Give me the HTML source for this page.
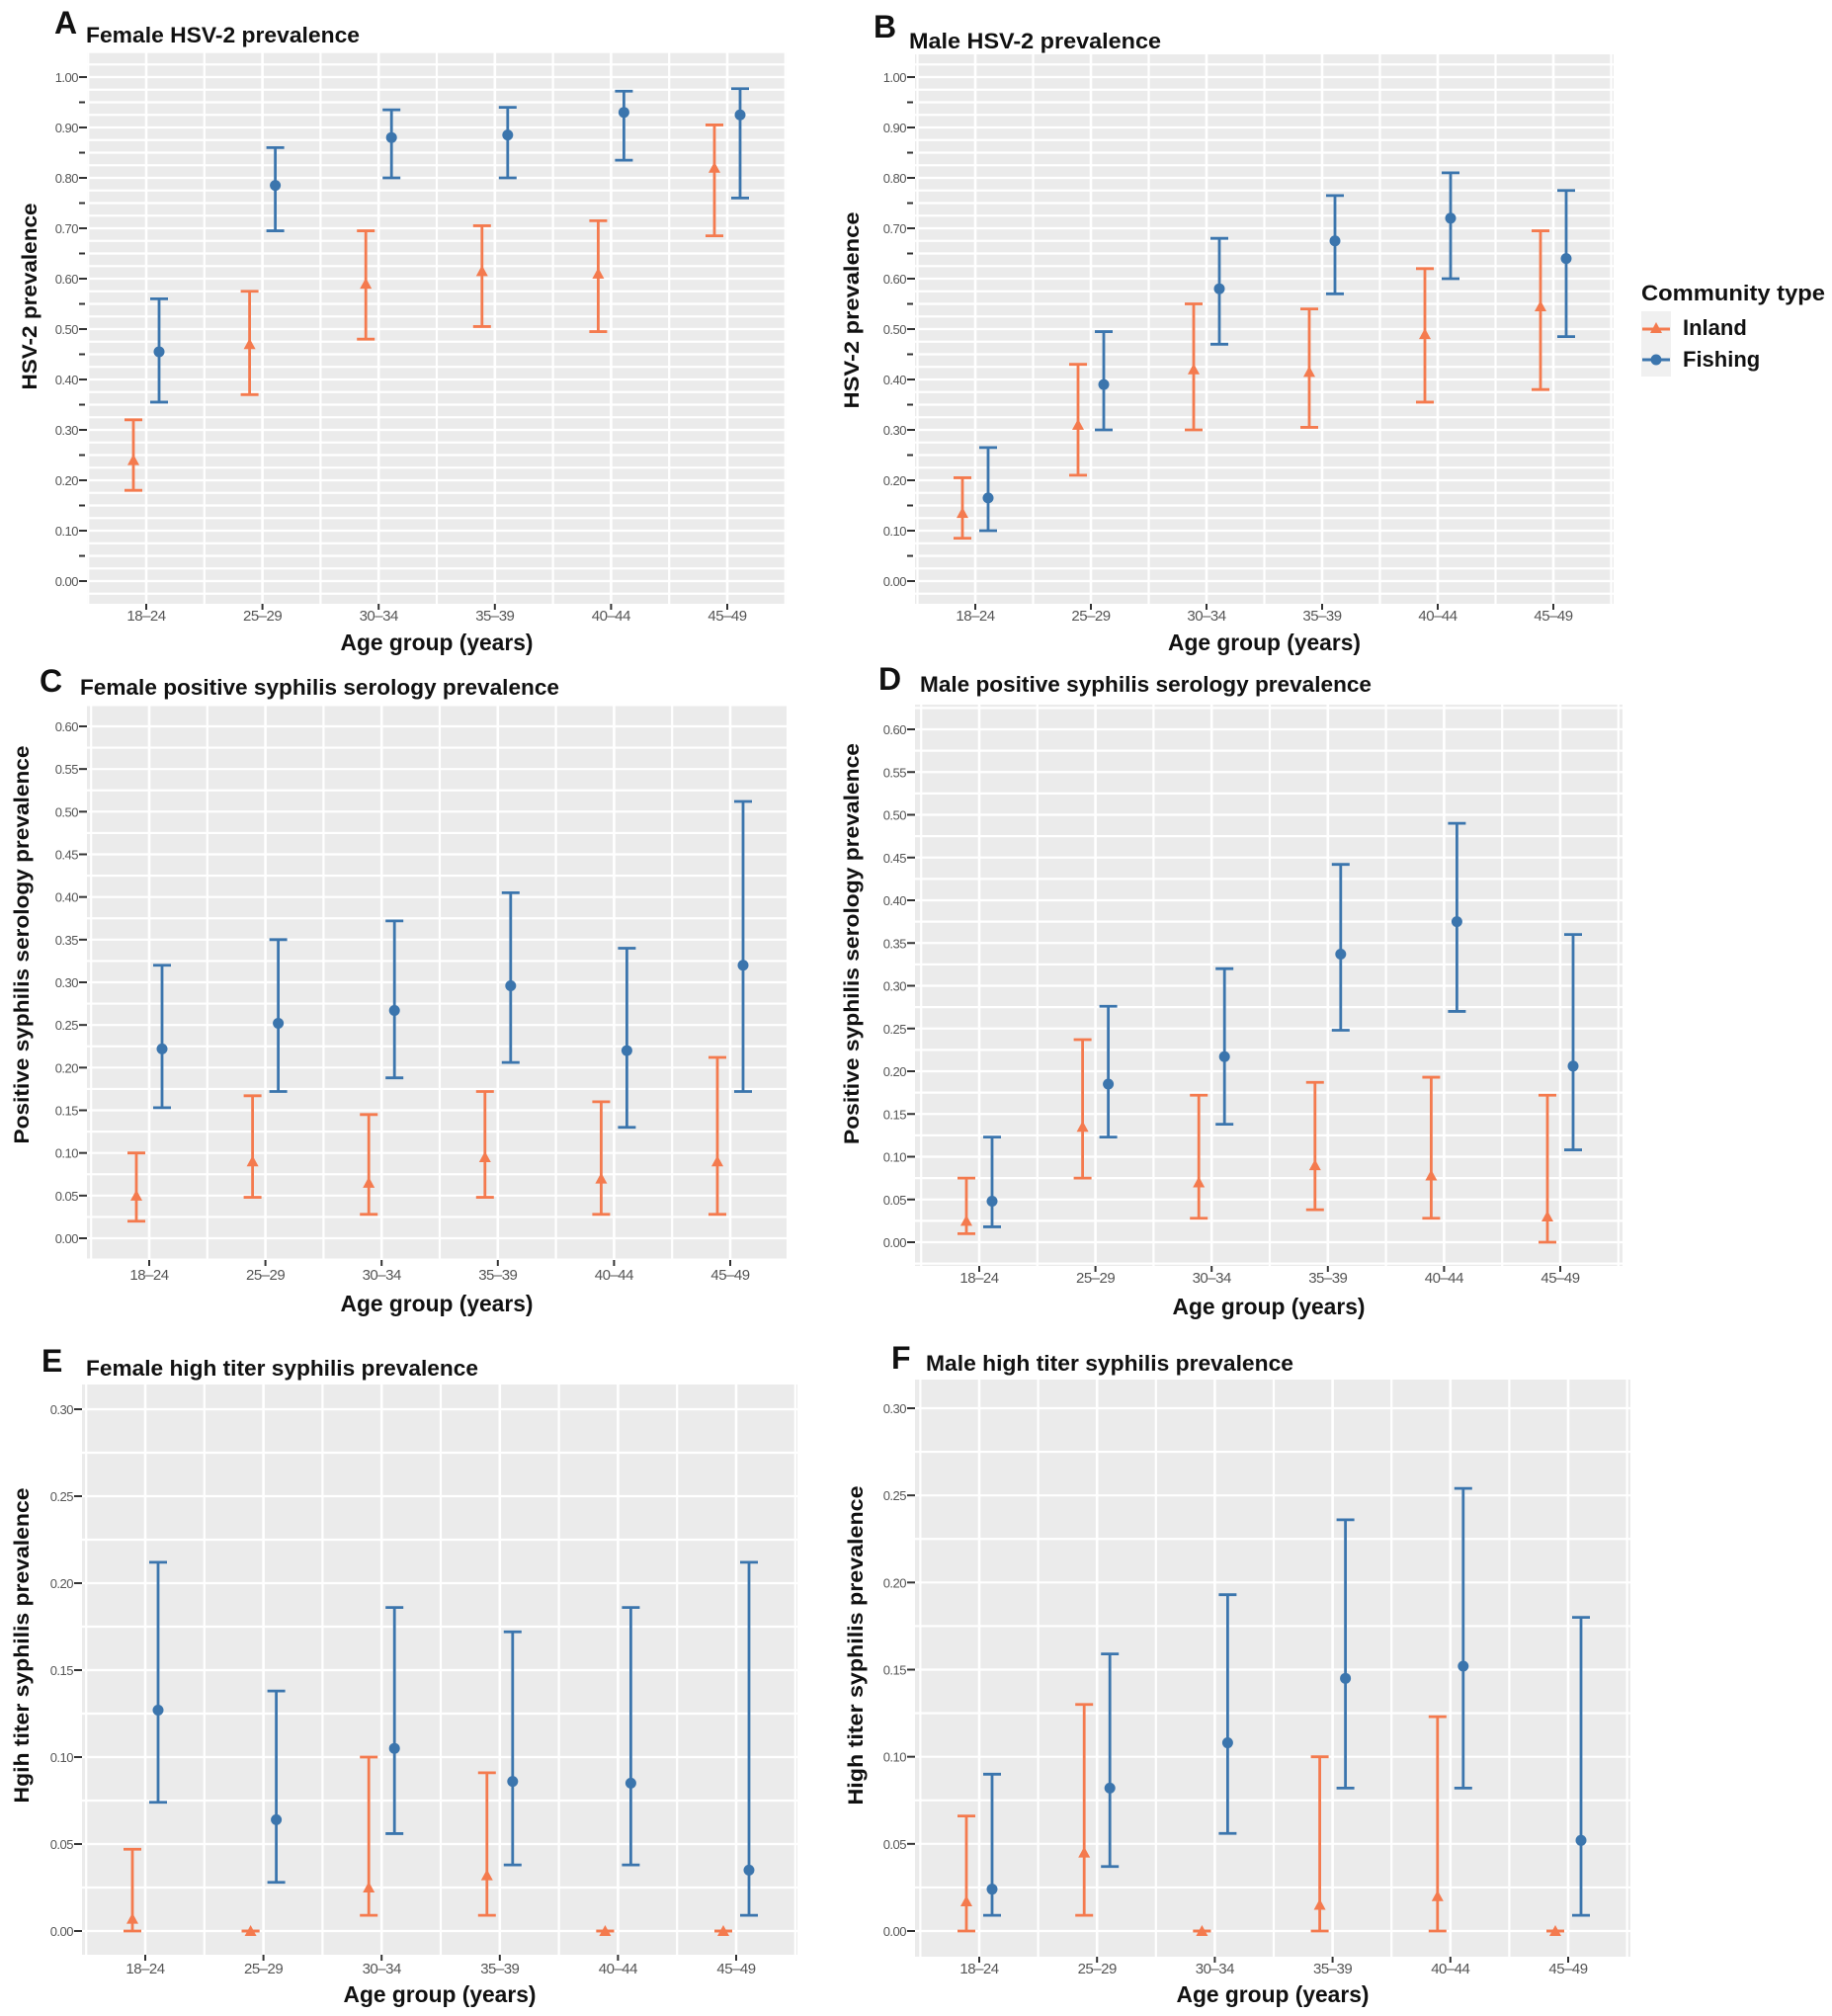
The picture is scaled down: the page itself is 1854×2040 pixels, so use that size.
<!DOCTYPE html>
<html><head><meta charset="utf-8">
<style>
body{margin:0;background:#fff;}
svg{display:block;font-family:"Liberation Sans",sans-serif;}
</style></head>
<body>
<svg id="fig" width="1854" height="2040" viewBox="0 0 1854 2040" xmlns="http://www.w3.org/2000/svg"></svg>
<script>
const categories = ["18–24","25–29","30–34","35–39","40–44","45–49"];
const aInland = [0.24,0.47,0.59,0.615,0.61,0.82];
const aInlandLo = [0.18,0.37,0.48,0.505,0.495,0.685];
const aInlandHi = [0.32,0.575,0.695,0.705,0.715,0.905];
const aFishing = [0.455,0.785,0.88,0.885,0.93,0.925];
const aFishingLo = [0.355,0.695,0.80,0.80,0.835,0.76];
const aFishingHi = [0.56,0.86,0.935,0.94,0.972,0.977];
const bInland = [0.135,0.31,0.42,0.415,0.49,0.545];
const bInlandLo = [0.085,0.21,0.30,0.305,0.355,0.38];
const bInlandHi = [0.205,0.43,0.55,0.54,0.62,0.695];
const bFishing = [0.165,0.39,0.58,0.675,0.72,0.64];
const bFishingLo = [0.10,0.30,0.47,0.57,0.60,0.485];
const bFishingHi = [0.265,0.495,0.68,0.765,0.81,0.775];
const cInland = [0.05,0.09,0.065,0.095,0.07,0.09];
const cInlandLo = [0.02,0.048,0.028,0.048,0.028,0.028];
const cInlandHi = [0.10,0.167,0.145,0.172,0.16,0.212];
const cFishing = [0.222,0.252,0.267,0.296,0.22,0.32];
const cFishingLo = [0.153,0.172,0.188,0.206,0.13,0.172];
const cFishingHi = [0.32,0.35,0.372,0.405,0.34,0.512];
const dInland = [0.025,0.135,0.07,0.09,0.078,0.03];
const dInlandLo = [0.01,0.075,0.028,0.038,0.028,0.0];
const dInlandHi = [0.075,0.237,0.172,0.187,0.193,0.172];
const dFishing = [0.048,0.185,0.217,0.337,0.375,0.206];
const dFishingLo = [0.018,0.123,0.138,0.248,0.27,0.108];
const dFishingHi = [0.123,0.276,0.32,0.442,0.49,0.36];
const eInland = [0.007,0,0.025,0.032,0,0];
const eInlandLo = [0,0,0.009,0.009,0,0];
const eInlandHi = [0.047,0,0.10,0.091,0,0];
const eFishing = [0.127,0.064,0.105,0.086,0.085,0.035];
const eFishingLo = [0.074,0.028,0.056,0.038,0.038,0.009];
const eFishingHi = [0.212,0.138,0.186,0.172,0.186,0.212];
const fInland = [0.017,0.045,0,0.015,0.02,0];
const fInlandLo = [0,0.009,0,0,0,0];
const fInlandHi = [0.066,0.13,0,0.10,0.123,0];
const fFishing = [0.024,0.082,0.108,0.145,0.152,0.052];
const fFishingLo = [0.009,0.037,0.056,0.082,0.082,0.009];
const fFishingHi = [0.09,0.159,0.193,0.236,0.254,0.18];
const ticksHSV = [0,0.1,0.2,0.3,0.4,0.5,0.6,0.7,0.8,0.9,1.0];
const ticksSyph = [0,0.05,0.1,0.15,0.2,0.25,0.3,0.35,0.4,0.45,0.5,0.55,0.6];
const ticksHigh = [0,0.05,0.1,0.15,0.2,0.25,0.3];

const NS="http://www.w3.org/2000/svg";
const svg=document.getElementById('fig');
function mk(tag,attrs,parent,text){const e=document.createElementNS(NS,tag);for(const k in attrs)e.setAttribute(k,attrs[k]);if(text!==undefined)e.textContent=text;(parent||svg).appendChild(e);return e;}
const ORANGE="#f47a4e", BLUE="#3b75ad";

const panels=[
 {id:'a',letter:'A',title:'Female HSV-2 prevalence',tw:277,ytitle:'HSV-2 prevalence',yw:189,px:[88,796],py:[52,611],y1:78,y0:588,vmax:1.0,c0:148,c1:736,ticks:ticksHSV,minor:0.05,grid:0.025,lx:55,ly:34,tx:87,ty:43,yx:30,yc:300,xty:658,tly:628,data:[aInland,aInlandLo,aInlandHi,aFishing,aFishingLo,aFishingHi]},
 {id:'b',letter:'B',title:'Male HSV-2 prevalence',tw:255,ytitle:'HSV-2  prevalence',yw:199,px:[926,1633],py:[55,611],y1:78,y0:588,vmax:1.0,c0:987,c1:1572,ticks:ticksHSV,minor:0.05,grid:0.025,lx:884,ly:38,tx:920,ty:49,yx:862,yc:314,xty:658,tly:628,data:[bInland,bInlandLo,bInlandHi,bFishing,bFishingLo,bFishingHi]},
 {id:'c',letter:'C',title:'Female positive syphilis serology prevalence',tw:485,ytitle:'Positive syphilis serology prevalence',yw:403,px:[88,796],py:[713,1275],y1:735,y0:1253,vmax:0.6,c0:151,c1:739,ticks:ticksSyph,minor:null,grid:0.025,lx:40,ly:700,tx:81,ty:703,yx:22,yc:956,xty:1327,tly:1295,data:[cInland,cInlandLo,cInlandHi,cFishing,cFishingLo,cFishingHi]},
 {id:'d',letter:'D',title:'Male positive syphilis serology prevalence',tw:457,ytitle:'Positive syphilis serology prevalence',yw:406,px:[926,1642],py:[713,1281],y1:738,y0:1257,vmax:0.6,c0:991,c1:1579,ticks:ticksSyph,minor:null,grid:0.025,lx:889,ly:698,tx:931,ty:700,yx:862,yc:955,xty:1330,tly:1298,data:[dInland,dInlandLo,dInlandHi,dFishing,dFishingLo,dFishingHi]},
 {id:'e',letter:'E',title:'Female high titer syphilis prevalence',tw:397,ytitle:'Hgih titer syphilis prevalence',yw:319,px:[83,807],py:[1401,1978],y1:1426,y0:1954,vmax:0.3,c0:147,c1:745,ticks:ticksHigh,minor:null,grid:0.025,lx:42,ly:1388,tx:87,ty:1392,yx:22,yc:1665,xty:2026,tly:1997,data:[eInland,eInlandLo,eInlandHi,eFishing,eFishingLo,eFishingHi]},
 {id:'f',letter:'F',title:'Male high titer syphilis prevalence',tw:372,ytitle:'High titer syphilis prevalence',yw:323,px:[926,1650],py:[1396,1980],y1:1425,y0:1954,vmax:0.3,c0:991,c1:1587,ticks:ticksHigh,minor:null,grid:0.025,lx:902,ly:1385,tx:937,ty:1387,yx:866,yc:1665,xty:2026,tly:1997,data:[fInland,fInlandLo,fInlandHi,fFishing,fFishingLo,fFishingHi]},
];

function fmt(v){return v.toFixed(2);}

panels.forEach(p=>{
  const g=mk('g',{});
  
  
  const y=v=>p.y0-(v/p.vmax)*(p.y0-p.y1);
  const step=(p.c1-p.c0)/(categories.length-1);
  const x=i=>p.c0+i*step;
  const bg=mk('rect',{x:p.px[0],y:p.py[0],width:p.px[1]-p.px[0],height:p.py[1]-p.py[0],fill:'#ebebeb'},g);
  
  
  for(let v=0; v<=p.vmax+p.grid*0.01; v+=p.grid){
    mk('line',{x1:p.px[0],x2:p.px[1],y1:y(v),y2:y(v),stroke:'#fff','stroke-width':2.2},g);
  }
  for(let v=-p.grid; v>=-0.06*p.vmax; v-=p.grid){ if(y(v)<p.py[1]) mk('line',{x1:p.px[0],x2:p.px[1],y1:y(v),y2:y(v),stroke:'#fff','stroke-width':2.2},g);}
  for(let v=p.vmax+p.grid; y(v)>p.py[0]; v+=p.grid){ mk('line',{x1:p.px[0],x2:p.px[1],y1:y(v),y2:y(v),stroke:'#fff','stroke-width':2.2},g);}
  for(let i=-0.5;i<=categories.length-0.5;i+=0.5){
    const xx=x(i); if(xx<p.px[0]||xx>p.px[1]) continue;
    mk('line',{x1:xx,x2:xx,y1:p.py[0],y2:p.py[1],stroke:'#fff','stroke-width':i%1===0?2.6:2.2},g);
  }
  p.ticks.forEach(v=>{
    mk('line',{x1:p.px[0]-8,x2:p.px[0],y1:y(v),y2:y(v),stroke:'#333','stroke-width':2},g);
    const t=mk('text',{x:p.px[0]-9,y:y(v)+5,'text-anchor':'end','font-size':13,fill:'#555','letter-spacing':'-0.5'},g,fmt(v));
    
    
  });
  if(p.minor){ for(let v=p.minor; v<p.vmax; v+=2*p.minor){ mk('line',{x1:p.px[0]-8,x2:p.px[0]-2,y1:y(v),y2:y(v),stroke:'#333','stroke-width':2},g);} }
  categories.forEach((c,i)=>{
    mk('line',{x1:x(i),x2:x(i),y1:p.py[1],y2:p.py[1]+6,stroke:'#333','stroke-width':2},g);
    const t=mk('text',{x:x(i),y:p.tly,'text-anchor':'middle','font-size':15,fill:'#555','letter-spacing':'-0.5'},g,c);
    
    
  });
  const series=[{v:p.data[0],lo:p.data[1],hi:p.data[2],col:ORANGE,off:-13,shape:'tri',name:'inland'},
                {v:p.data[3],lo:p.data[4],hi:p.data[5],col:BLUE,off:13,shape:'dot',name:'fishing'}];
  series.forEach(s=>{
    s.v.forEach((val,i)=>{
      const cx=x(i)+s.off;
      const eb=mk('g',{},g);
      
      
      mk('line',{x1:cx,x2:cx,y1:y(s.lo[i]),y2:y(s.hi[i]),stroke:s.col,'stroke-width':2.8},eb);
      mk('line',{x1:cx-9,x2:cx+9,y1:y(s.lo[i]),y2:y(s.lo[i]),stroke:s.col,'stroke-width':2.8},eb);
      mk('line',{x1:cx-9,x2:cx+9,y1:y(s.hi[i]),y2:y(s.hi[i]),stroke:s.col,'stroke-width':2.8},eb);
      let m;
      if(s.shape==='dot') m=mk('circle',{cx:cx,cy:y(val),r:5.5,fill:s.col},g);
      else { const yy=y(val); m=mk('polygon',{points:`${cx},${yy-6} ${cx-6},${yy+5} ${cx+6},${yy+5}`,fill:s.col},g); }
      
      
    });
  });
  const L=mk('text',{x:p.lx,y:p.ly,'font-size':32,'font-weight':'bold',fill:'#111'},g,p.letter);
  
  
  const T=mk('text',{x:p.tx,y:p.ty,'font-size':22,'font-weight':'bold',fill:'#111',textLength:p.tw,lengthAdjust:'spacingAndGlyphs'},g,p.title);
  
  
  const YT=mk('text',{x:p.yx,y:p.yc,'font-size':21,'font-weight':'bold',fill:'#111','text-anchor':'middle',transform:`rotate(-90 ${p.yx} ${p.yc})`,dy:7,textLength:p.yw,lengthAdjust:'spacingAndGlyphs'},g,p.ytitle);
  
  
  const XT=mk('text',{x:(p.px[0]+p.px[1])/2,y:p.xty,'font-size':23,'font-weight':'bold',fill:'#111','text-anchor':'middle',textLength:195,lengthAdjust:'spacingAndGlyphs'},g,'Age group (years)');
  
  
});

const lg=mk('g',{});


mk('text',{x:1661,y:304,'font-size':22,'font-weight':'bold',fill:'#111',textLength:186,lengthAdjust:'spacingAndGlyphs'},lg,'Community type');
mk('rect',{x:1661,y:315,width:30,height:66,fill:'#f0f0f0'},lg);
const e1=mk('g',{},lg);


mk('line',{x1:1662,x2:1690,y1:333,y2:333,stroke:ORANGE,'stroke-width':3},e1);
mk('polygon',{points:'1676,326 1670,337 1682,337',fill:ORANGE},e1);
mk('text',{x:1703,y:339,'font-size':22,'font-weight':'bold',fill:'#111'},e1,'Inland');
const e2=mk('g',{},lg);


mk('line',{x1:1662,x2:1690,y1:364,y2:364,stroke:BLUE,'stroke-width':3},e2);
mk('circle',{cx:1676,cy:364,r:5.5,fill:BLUE},e2);
mk('text',{x:1703,y:371,'font-size':22,'font-weight':'bold',fill:'#111'},e2,'Fishing');
</script>
</body></html>
